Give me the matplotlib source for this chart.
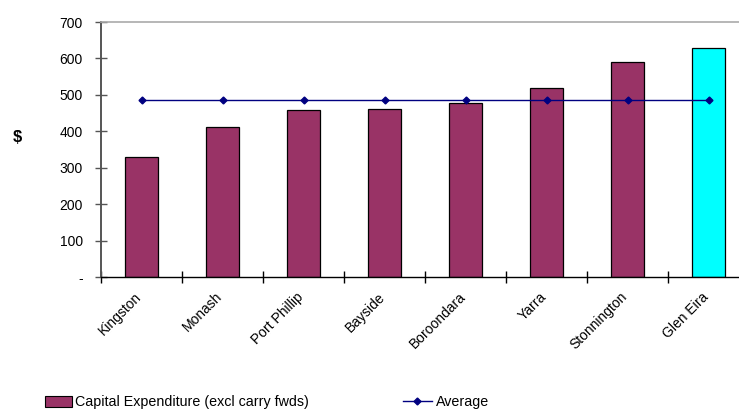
import matplotlib
matplotlib.use("Agg")
import matplotlib.pyplot as plt
import matplotlib.transforms as mtransforms
from matplotlib.patches import Patch
from matplotlib.lines import Line2D

categories = ["Kingston", "Monash", "Port Phillip", "Bayside", "Boroondara",
              "Yarra", "Stonnington", "Glen Eira"]
capex = [330, 411, 460, 462, 477, 518, 589, 628]
average = [485, 485, 485, 485, 485, 485, 485, 485]
bar_colors = ["#993366"] * 7 + ["#00FFFF"]
yticks = [0, 100, 200, 300, 400, 500, 600, 700]
ytick_labels = ["-", "100", "200", "300", "400", "500", "600", "700"]

plt.rcParams['font.family'] = ['Liberation Sans', 'DejaVu Sans']

W, H = 739, 411
fig = plt.figure(figsize=(W / 100, H / 100), dpi=100)
left, right = 101, 749
top, bottom = 22, 277.3
ax = fig.add_axes([left / W, 1 - bottom / H, (right - left) / W, (bottom - top) / H])

x = list(range(len(categories)))
ax.bar(x, capex, width=0.41, color=bar_colors, edgecolor="black", linewidth=0.9, zorder=2)
ax.plot(x, average, color="#000080", linewidth=1.0, marker="D", markersize=3.5, zorder=3)

ax.set_xlim(-0.5, len(categories) - 0.5)
ax.set_ylim(0, 700)
ax.set_yticks(yticks)
ax.set_yticklabels(ytick_labels, fontsize=10)
ax.set_xticks([i - 0.5 for i in x])
ax.set_xticklabels([])
ax.set_xticks(x, minor=True)
ax.set_xticklabels(categories, minor=True, rotation=45, ha="right",
                   rotation_mode="anchor", fontsize=10)
ax.tick_params(axis="x", which="minor", length=0, pad=9)
ax.tick_params(axis="x", which="major", direction="inout", length=9, width=1, color="black")
ax.tick_params(axis="y", direction="inout", length=8, width=1, color="#555555", pad=9)

offset = mtransforms.ScaledTranslation(-0.07, 0.0, fig.dpi_scale_trans)
for lab in ax.get_xticklabels(minor=True):
    lab.set_transform(lab.get_transform() + offset)

ax.spines["right"].set_visible(False)
ax.spines["top"].set_color("#aaaaaa")
ax.spines["top"].set_linewidth(1.2)
ax.spines["left"].set_color("#555555")
ax.spines["left"].set_linewidth(1.4)
ax.spines["bottom"].set_color("black")
ax.spines["bottom"].set_linewidth(1.0)

fig.text(17 / W, 1 - 137 / H, "$", fontsize=12, fontweight="bold", ha="center", va="center")

h1 = Patch(facecolor="#993366", edgecolor="black", linewidth=0.8)
h2 = Line2D([0], [0], color="#000080", linewidth=1.0, marker="D", markersize=3.5)
leg1 = fig.legend([h1], ["Capital Expenditure (excl carry fwds)"], loc="center left",
                  bbox_to_anchor=(38 / W, 1 - 402 / H), frameon=False, fontsize=10.3,
                  handlelength=1.9, handleheight=0.8, handletextpad=0.2, borderpad=0)
leg2 = fig.legend([h2], ["Average"], loc="center left",
                  bbox_to_anchor=(396 / W, 1 - 402 / H), frameon=False, fontsize=10.3,
                  handlelength=2.0, handletextpad=0.3, borderpad=0)

fig.savefig("out.png", dpi=100)
